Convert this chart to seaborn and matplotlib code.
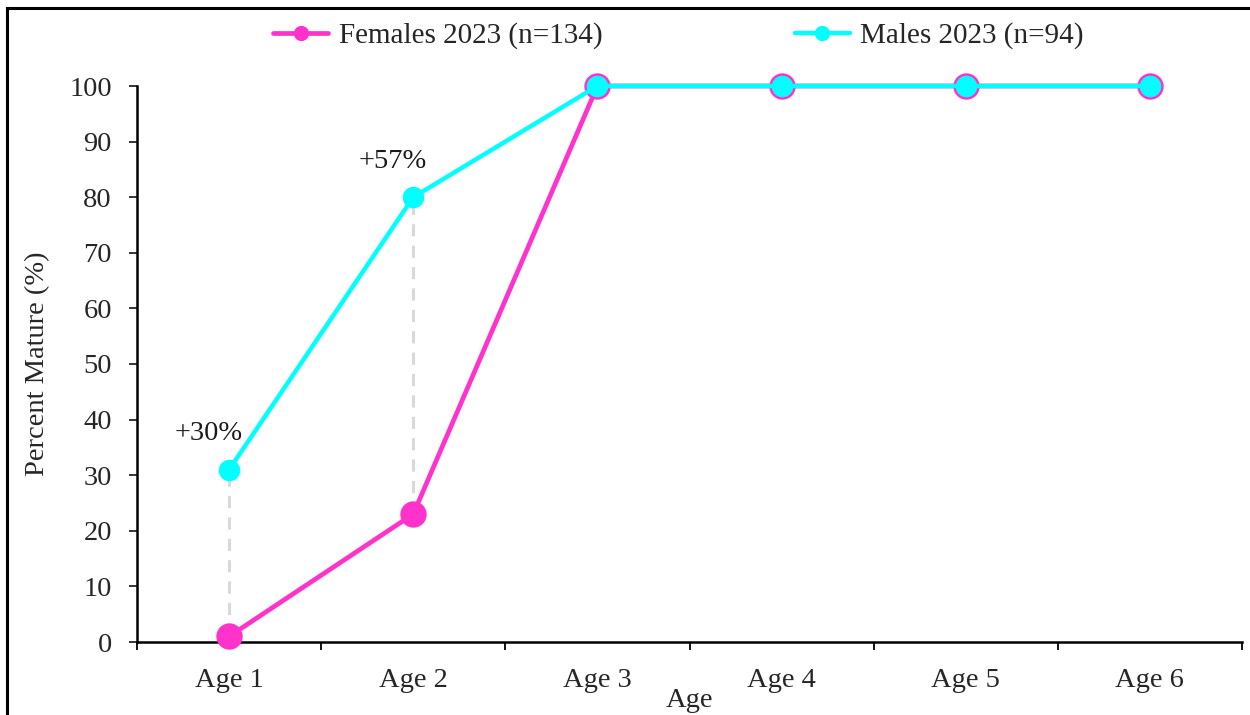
import numpy as np
import pandas as pd
import matplotlib
matplotlib.use("Agg")
import matplotlib.pyplot as plt
from matplotlib.patches import Rectangle
import seaborn as sns

ages = ["Age 1", "Age 2", "Age 3", "Age 4", "Age 5", "Age 6"]
females = [1, 23, 100, 100, 100, 100]
males = [31, 80, 100, 100, 100, 100]
female_label = "Females 2023 (n=134)"
male_label = "Males 2023 (n=94)"
gap_labels = ["+30%", "+57%"]

PINK = "#FF33CC"
CYAN = "#00FFFF"
GRAY = "#D9D9D9"
FS = 20.5

sns.set_style("ticks")
plt.rcParams["font.family"] = ["Liberation Serif", "DejaVu Serif"]

fig = plt.figure(figsize=(12.5, 7.15), dpi=100)
ax = fig.add_axes([137 / 1250, 1 - 642 / 715, (1242 - 137) / 1250, (642 - 86) / 715])

df_f = pd.DataFrame({"age": ages, "pct": females})
df_m = pd.DataFrame({"age": ages, "pct": males})

# dashed connectors showing the male-female difference
pos = np.arange(len(ages))
for i in range(len(gap_labels)):
    ax.plot([pos[i], pos[i]], [females[i], males[i]], color=GRAY, lw=2.2,
            ls=(0, (4, 3)), zorder=1)

sns.lineplot(data=df_f, x="age", y="pct", ax=ax, color=PINK, lw=3.4,
             marker="o", markersize=19, markeredgecolor=PINK, markeredgewidth=0,
             label=female_label, sort=False, zorder=3, clip_on=False)
sns.lineplot(data=df_m, x="age", y="pct", ax=ax, color=CYAN, lw=3.2,
             marker="o", markersize=15.5, markeredgecolor=CYAN, markeredgewidth=0,
             label=male_label, sort=False, zorder=4, clip_on=False)

for i, txt in enumerate(gap_labels):
    ax.annotate(txt, xy=(pos[i], males[i]), xytext=(-15, 26),
                textcoords="offset points", ha="center", va="center",
                fontsize=FS, family="Liberation Serif", color="#1a1a1a")

ax.set_xlim(-0.5, len(ages) - 0.5)
ax.set_ylim(0, 100)
ax.set_yticks(np.arange(0, 101, 10))
ax.set_xticks(pos, ages)
ax.set_xticks(np.arange(-0.5, len(ages), 1), minor=True)
ax.tick_params(axis="x", which="major", length=0, pad=19, labelsize=FS)
ax.tick_params(axis="x", which="minor", length=6, width=1.3, direction="out", color="black")
ax.tick_params(axis="y", length=6, width=1.3, pad=12, labelsize=FS)

ax.set_xlabel("Age", fontsize=FS, labelpad=-4)
ax.set_ylabel("Percent Mature (%)", fontsize=FS, labelpad=14)

sns.despine(ax=ax)
for s in ("left", "bottom"):
    ax.spines[s].set_linewidth(1.8)
    ax.spines[s].set_color("black")

leg = ax.legend(loc="lower center", bbox_to_anchor=(0.49, 1.045), ncol=2, frameon=False,
                fontsize=21, handlelength=1.9, columnspacing=6.6, handletextpad=0.35,
                borderaxespad=0)
for h in leg.legend_handles:
    h.set_markersize(11)

# outer frame
fig.patches.append(Rectangle((7 / 1250, -0.1), 1.2, 1 - 8 / 715 + 0.1,
                             transform=fig.transFigure, fill=False,
                             edgecolor="black", lw=2.2, zorder=0))

fig.savefig("out.png", dpi=100)
